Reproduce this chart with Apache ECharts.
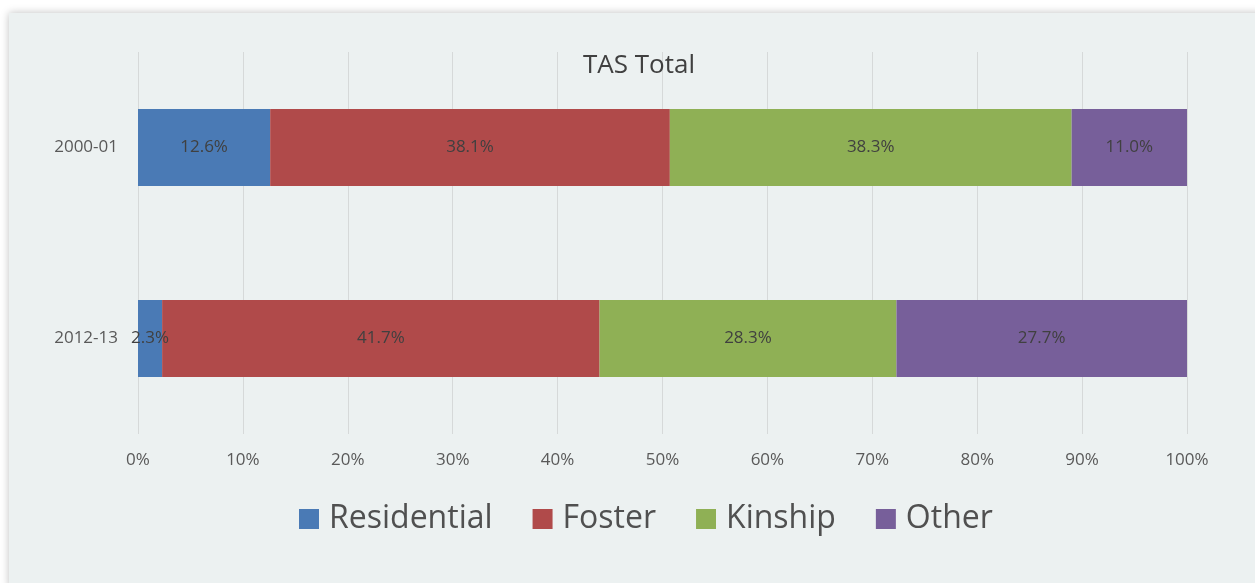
<!DOCTYPE html>
<html><head><meta charset="utf-8">
<script src="https://cdn.jsdelivr.net/npm/echarts@6/dist/echarts.min.js"></script>
<style>
html,body{margin:0;padding:0;background:#fff;width:1255px;height:583px;overflow:hidden;}
#panel{position:absolute;left:9px;top:13px;width:1260px;height:575px;background:#ecf1f1;box-shadow:0 0 8px rgba(0,0,0,0.25);}
#chart{position:absolute;left:0;top:0;width:1255px;height:583px;}
</style></head>
<body><div id="panel"></div><div id="chart"></div>
<script>
const categories = ['2000-01', '2012-13'];
const residential = [12.6, 2.3];
const foster = [38.1, 41.7];
const kinship = [38.3, 28.3];
const other = [11.0, 27.7];
const seriesNames = ['Residential', 'Foster', 'Kinship', 'Other'];
const colors = ['#4a7ab5', '#b04a4a', '#8fb055', '#775f9a'];

const chart = echarts.init(document.getElementById('chart'));
const dataSets = [residential, foster, kinship, other];
chart.setOption({
  backgroundColor: 'transparent',
  title: { text: 'TAS Total', left: 578, top: 48, textStyle: { fontFamily: 'Open Sans', fontSize: 26, fontWeight: 'normal', color: '#404040' } },
  legend: { bottom: 43, left: 294, itemWidth: 20, itemHeight: 20, itemGap: 40, icon: 'rect',
    textStyle: { fontFamily: 'Open Sans', fontSize: 32, color: '#505050', padding: [0, 0, 0, 5] }, data: seriesNames },
  grid: { left: 138, right: 68, top: 52, bottom: 149, containLabel: false },
  xAxis: { type: 'value', min: 0, max: 100, interval: 10,
    axisLabel: { formatter: '{value}%', fontFamily: 'Open Sans', fontSize: 17, color: '#595959', margin: 18 },
    splitLine: { lineStyle: { color: '#d6d9d9', width: 1 } }, axisLine: { show: false }, axisTick: { show: false } },
  yAxis: { type: 'category', data: categories, inverse: true,
    axisLabel: { fontFamily: 'Open Sans', fontSize: 17, color: '#595959', margin: 20 },
    axisLine: { show: false }, axisTick: { show: false } },
  series: seriesNames.map((n, i) => ({
    name: n, type: 'bar', stack: 'total', barWidth: 77,
    itemStyle: { color: colors[i] },
    label: { show: true, position: 'inside', formatter: p => p.value.toFixed(1) + '%', fontFamily: 'Open Sans', fontSize: 17, color: '#404040' },
    data: dataSets[i]
  }))
});
</script></body></html>
